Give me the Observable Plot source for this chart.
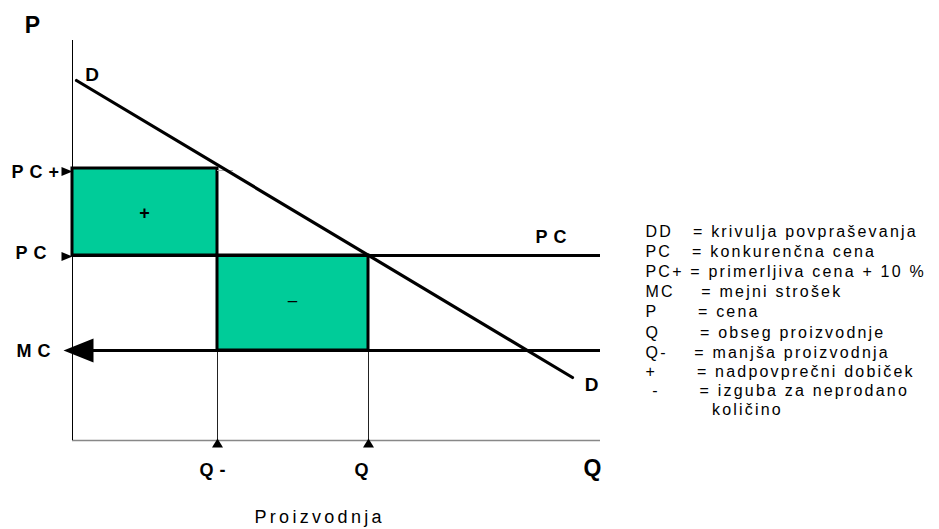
<!DOCTYPE html>
<html>
<head>
<meta charset="utf-8">
<script src="https://cdn.jsdelivr.net/npm/d3@7"></script>
<script src="https://cdn.jsdelivr.net/npm/@observablehq/plot@0.6"></script>
<style>
  html, body { margin: 0; padding: 0; background: #fff; }
</style>
</head>
<body>
<div id="chart"></div>
<script>
// ---- data (chart units: Q horizontally, P vertically) ----
const qMax = 52.8;            // end of the Q axis
const pMax = 40;              // top of the P axis
const qMinus = 14.5;          // Q-
const qStar = 29.6;           // Q
const pMC = 9.0;              // MC
const pPC = 18.5;             // PC
const pPCplus = 27.2;         // PC+
const demandQ = [0.4, 50.0];  // demand line D..D
const demandP = [36.0, 6.3];

const priceTickLabels = ["PC+", "PC", "MC"];
const priceTickQ = [-6.1, -5.7, -5.6];
const priceTickP = [26.85, 18.7, 8.9];

const qTickLabels = ["Q-", "Q"];
const qTickQ = [12.7, 28.2];
const qTickP = [-3.0, -3.0];

const legendLines = [
  "DD   = krivulja povpraševanja",
  "PC   = konkurenčna cena",
  "PC+ = primerljiva cena + 10 %",
  "MC    = mejni strošek",
  "P      = cena",
  "Q      = obseg proizvodnje",
  "Q-    = manjša proizvodnja",
  "+      = nadpovprečni dobiček",
  " -      = izguba za neprodano",
  "          količino"
];
const legendP = [20.9, 18.9, 16.9, 14.9, 12.9, 10.8, 8.8, 6.9, 5.0, 3.1];
const legendQ = 57.3;

// ---- derived tables ----
const demand = demandQ.map((q, i) => ({q, p: demandP[i]}));
const boxes = [
  {q1: 0, q2: qMinus, p1: pPC, p2: pPCplus},
  {q1: qMinus, q2: qStar, p1: pMC, p2: pPC}
];
const hLines = [
  {q1: 0, q2: qMax, p: pPC},
  {q1: 0, q2: qMax, p: pMC}
];
const dropLines = [qMinus, qStar].map(q => ({q, p1: 0, p2: pMC}));
const priceTicks = priceTickLabels.map((t, i) => ({t, q: priceTickQ[i], p: priceTickP[i]}));
const qTicks = qTickLabels.map((t, i) => ({t, q: qTickQ[i], p: qTickP[i]}));
const legend = legendLines.map((t, i) => ({t, q: legendQ, p: legendP[i]}));

// ---- symbols ----
const arrowRight = {draw(c) { c.moveTo(0, 0); c.lineTo(-11, -4.5); c.lineTo(-11, 4.5); c.closePath(); }};
const arrowUp = {draw(c) { c.moveTo(0, 0); c.lineTo(-5.5, 9); c.lineTo(5.5, 9); c.closePath(); }};
const arrowLeftBig = {draw(c) { c.moveTo(0, 0); c.lineTo(30, -12); c.lineTo(30, 12); c.closePath(); }};

const font = "'Liberation Sans', Arial, Helvetica, sans-serif";

const chart = Plot.plot({
  width: 939,
  height: 529,
  marginLeft: 72,
  marginRight: 339,
  marginTop: 40,
  marginBottom: 89,
  x: {domain: [0, qMax], axis: null},
  y: {domain: [0, pMax], axis: null},
  style: {fontFamily: font, background: "white", color: "black", overflow: "visible"},
  marks: [
    Plot.rect(boxes, {x1: "q1", x2: "q2", y1: "p1", y2: "p2", fill: "#00CC99", stroke: "black", strokeWidth: 3, inset: 0}),
    Plot.ruleY([0], {x1: 0, x2: qMax, stroke: "#888", strokeWidth: 1.5}),
    Plot.ruleX([0], {y1: 0, y2: pMax, stroke: "black", strokeWidth: 1}),
    Plot.ruleX(dropLines, {x: "q", y1: "p1", y2: "p2", stroke: "#222", strokeWidth: 1}),
    Plot.ruleY([pPCplus - 0.2], {x1: qMinus, x2: qMinus + 1.6, stroke: "#aaa", strokeWidth: 1}),
    Plot.ruleY(hLines, {y: "p", x1: "q1", x2: "q2", stroke: "black", strokeWidth: 3.2}),
    Plot.line(demand, {x: "q", y: "p", stroke: "black", strokeWidth: 3.2}),
    Plot.dot([pPCplus - 0.3, pPC - 0.1], {x: () => 0, y: d => d, symbol: arrowRight, fill: "black", stroke: "none"}),
    Plot.dot([qMinus, qStar], {x: d => d, y: () => 0.2, symbol: arrowUp, fill: "black", stroke: "none"}),
    Plot.dot([pMC], {x: () => -0.9, y: d => d, symbol: arrowLeftBig, fill: "black", stroke: "none"}),
    Plot.text(priceTicks, {x: "q", y: "p", text: "t", textAnchor: "start", fontSize: 18, fontWeight: "bold"}),
    Plot.text(qTicks, {x: "q", y: "p", text: "t", textAnchor: "start", fontSize: 18, fontWeight: "bold"}),
    Plot.text([{t: "P", q: -4.0, p: 41.45}], {x: "q", y: "p", text: "t", fontSize: 23, fontWeight: "bold"}),
    Plot.text([{t: "Q", q: 51.1, p: -2.85}], {x: "q", y: "p", text: "t", textAnchor: "start", fontSize: 23, fontWeight: "bold"}),
    Plot.text([{t: "D", q: 1.95, p: 36.6}, {t: "D", q: 51.9, p: 5.55}], {x: "q", y: "p", text: "t", fontSize: 19, fontWeight: "bold"}),
    Plot.text([{t: "PC", q: 46.3, p: 20.3}], {x: "q", y: "p", text: "t", textAnchor: "start", fontSize: 18, fontWeight: "bold"}),
    Plot.text([{t: "+", q: 7.2, p: 22.7}], {x: "q", y: "p", text: "t", fontSize: 18, fontWeight: "bold"}),
    Plot.text([{t: "–", q: 22.0, p: 14.0}], {x: "q", y: "p", text: "t", fontSize: 17}),
    Plot.text([{t: "Proizvodnja", q: 18.2, p: -7.7}], {x: "q", y: "p", text: "t", textAnchor: "start", fontSize: 18}),
    Plot.text(legend, {x: "q", y: "p", text: "t", textAnchor: "start", fontSize: 16})
  ]
});

// letter spacing (the reference uses widely spaced glyphs)
const spacedBold = new Set([...priceTickLabels, ...qTickLabels]);
d3.select(chart).selectAll("text").each(function() {
  const t = this.textContent;
  const s = d3.select(this);
  if (legendLines.includes(t)) s.style("letter-spacing", "2.2px").style("white-space", "pre");
  else if (spacedBold.has(t) && t !== "Q") s.style("letter-spacing", "6px");
  else if (t === "Proizvodnja") s.style("letter-spacing", "3.3px");
});
document.getElementById("chart").appendChild(chart);
</script>
</body>
</html>
